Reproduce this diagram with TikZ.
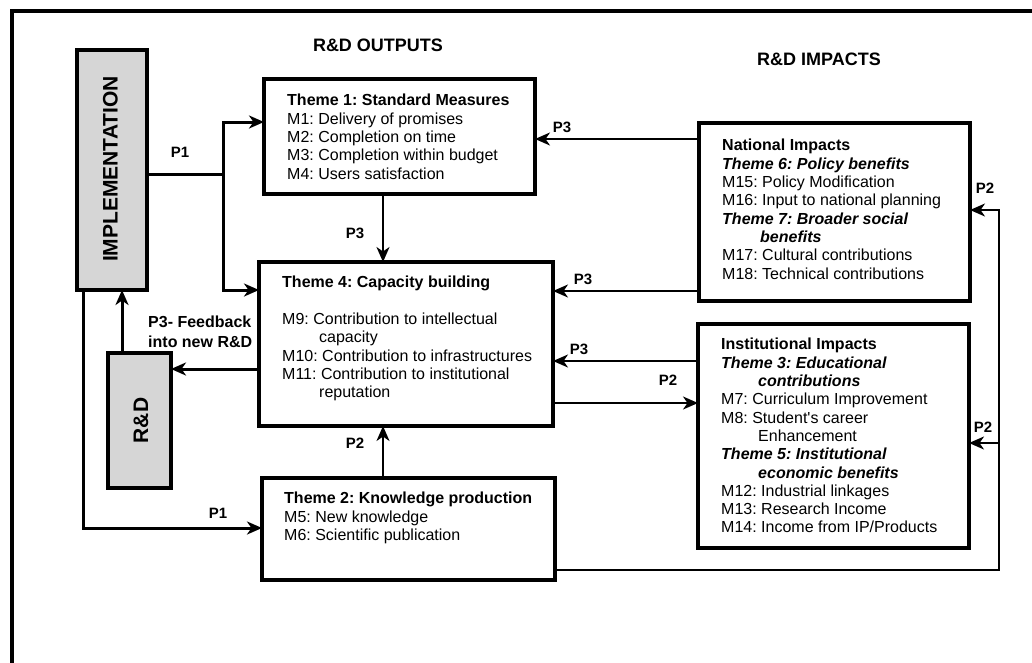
\documentclass[tikz,border=0pt]{standalone}
\usepackage{fontspec}
\setmainfont{Liberation Sans}
\usetikzlibrary{arrows.meta}
\definecolor{boxgray}{RGB}{214,214,214}
\frenchspacing
\begin{document}
\begin{tikzpicture}[x=1pt,y=-1pt,
  box/.style={draw, line width=3.5pt, inner sep=0pt, outer sep=0pt},
  graybox/.style={box, fill=boxgray},
  boxtext/.style={anchor=north west, inner sep=0pt, align=left,
    font=\fontsize{16}{18.3}\selectfont},
  lbl/.style={inner sep=0pt, font=\fontsize{15}{17}\selectfont\bfseries},
  heading/.style={inner sep=0pt, font=\fontsize{18}{20}\selectfont\bfseries},
  vtitle/.style={inner sep=0pt, rotate=90, font=\fontsize{21}{24}\selectfont\bfseries},
  conn/.style={line width=2pt},
  thickconn/.style={line width=3pt},
  tip/.style={-{Stealth[length=15pt,width=13pt,inset=4.5pt]}}
]
\clip (0,0) rectangle (1032,662);
\fill[white] (0,0) rectangle (1032,662);

% outer frame (left and top edges)
\draw[line width=4pt] (12,700) -- (12,10.5) -- (1100,10.5);

% column headings
\node[heading] (hout) at (378,45) {R\&D OUTPUTS};
\node[heading] (himp) at (819,59) {R\&D IMPACTS};

% boxes
\node[graybox, minimum width=70pt, minimum height=240pt] (impl) at (112,170) {};
\node[vtitle] (impltxt) at (110.5,169) {IMPLEMENTATION};
\node[graybox, minimum width=63pt, minimum height=135pt] (rd) at (139.5,420.5) {};
\node[vtitle] (rdtxt) at (141,420.5) {R\&D};

\node[box, minimum width=271pt, minimum height=115pt] (t1) at (399.5,136.5) {};
\node[box, minimum width=294pt, minimum height=164pt] (t4) at (406,344) {};
\node[box, minimum width=293pt, minimum height=102pt] (t2) at (408.5,529) {};
\node[box, minimum width=271pt, minimum height=178pt] (nat) at (834.5,212) {};
\node[box, minimum width=271pt, minimum height=224pt] (inst) at (833.5,436) {};

% box contents
\node[boxtext] (t1txt) at (287,94.1) {\textbf{Theme 1: Standard Measures}\\
M1: Delivery of promises\\
M2: Completion on time\\
M3: Completion within budget\\
M4: Users satisfaction};

\node[boxtext] (t4txt) at (282,276.1) {\textbf{Theme 4: Capacity building}\\[18.3pt]
M9: Contribution to intellectual\\
\hspace*{37pt}capacity\\
M10: Contribution to infrastructures\\
M11: Contribution to institutional\\
\hspace*{37pt}reputation};

\node[boxtext] (t2txt) at (284,492.1) {\textbf{Theme 2: Knowledge production}\\
M5: New knowledge\\
M6: Scientific publication};

\node[boxtext] (nattxt) at (722,139.1) {\textbf{National Impacts}\\
\textbf{\textit{Theme 6: Policy benefits}}\\
M15: Policy Modification\\
M16: Input to national planning\\
\textbf{\textit{Theme 7: Broader social}}\\
\hspace*{38pt}\textbf{\textit{benefits}}\\
M17: Cultural contributions\\
M18: Technical contributions};

\node[boxtext] (insttxt) at (721,338.1) {\textbf{Institutional Impacts}\\
\textbf{\textit{Theme 3: Educational}}\\
\hspace*{37pt}\textbf{\textit{contributions}}\\
M7: Curriculum Improvement\\
M8: Student\textquotesingle s career\\
\hspace*{37pt}Enhancement\\
\textbf{\textit{Theme 5: Institutional}}\\
\hspace*{37pt}\textbf{\textit{economic benefits}}\\
M12: Industrial linkages\\
M13: Research Income\\
M14: Income from IP/Products};

% routing points
\coordinate (j1) at (223,174);
\coordinate (yt1) at (0,122);
\coordinate (yt4) at (0,290);
\coordinate (jb) at (83,528);
\coordinate (xfb) at (122,0);
\coordinate (yfb) at (0,369);
\coordinate (xmid) at (383,0);
\coordinate (ynt1) at (0,139);
\coordinate (ynt4) at (0,291);
\coordinate (yit4) at (0,361);
\coordinate (yti) at (0,403);
\coordinate (cr) at (999,570);
\coordinate (ynat) at (0,210);
\coordinate (yinst) at (0,443);

% P1 paths from implementation
\draw[thickconn] (impl.east |- j1) -- (j1);
\draw[thickconn, tip] (j1) |- (t1.west |- yt1);
\draw[thickconn, tip] (j1) |- (t4.west |- yt4);
\draw[thickconn, tip] (impl.south -| jb) -- (jb) -- (t2.west |- jb);

% feedback loop
\draw[thickconn, tip] (t4.west |- yfb) -- (rd.east |- yfb);
\draw[thickconn, tip] (rd.north -| xfb) -- (impl.south -| xfb);

% vertical links into theme 4
\draw[conn, tip] (t1.south -| xmid) -- (t4.north -| xmid);
\draw[conn, tip] (t2.north -| xmid) -- (t4.south -| xmid);

% links from the impact boxes
\draw[conn, tip] (nat.west |- ynt1) -- (t1.east |- ynt1);
\draw[conn, tip] (nat.west |- ynt4) -- (t4.east |- ynt4);
\draw[conn, tip] (inst.west |- yit4) -- (t4.east |- yit4);
\draw[conn, tip] (t4.east |- yti) -- (inst.west |- yti);

% theme 2 feeding the impact boxes
\draw[conn, tip] (t2.east |- cr) -- (cr) |- (nat.east |- ynat);
\draw[conn, tip] (cr |- yinst) -- (inst.east |- yinst);

% path labels
\node[lbl] (lp1a) at (180,152) {P1};
\node[lbl] (lp1b) at (218,513) {P1};
\node[lbl] (lp3a) at (355,233) {P3};
\node[lbl] (lp3b) at (562,127) {P3};
\node[lbl] (lp3c) at (583,279) {P3};
\node[lbl] (lp3d) at (579,349) {P3};
\node[lbl] (lp2a) at (668,380) {P2};
\node[lbl] (lp2b) at (985,188) {P2};
\node[lbl] (lp2c) at (983,427) {P2};
\node[lbl] (lp2d) at (355,443) {P2};
\node[anchor=north west, inner sep=0pt, align=left,
  font=\fontsize{16}{20}\selectfont\bfseries] (lfb) at (148,316) {P3- Feedback\\into new R\&D};
\end{tikzpicture}
\end{document}
